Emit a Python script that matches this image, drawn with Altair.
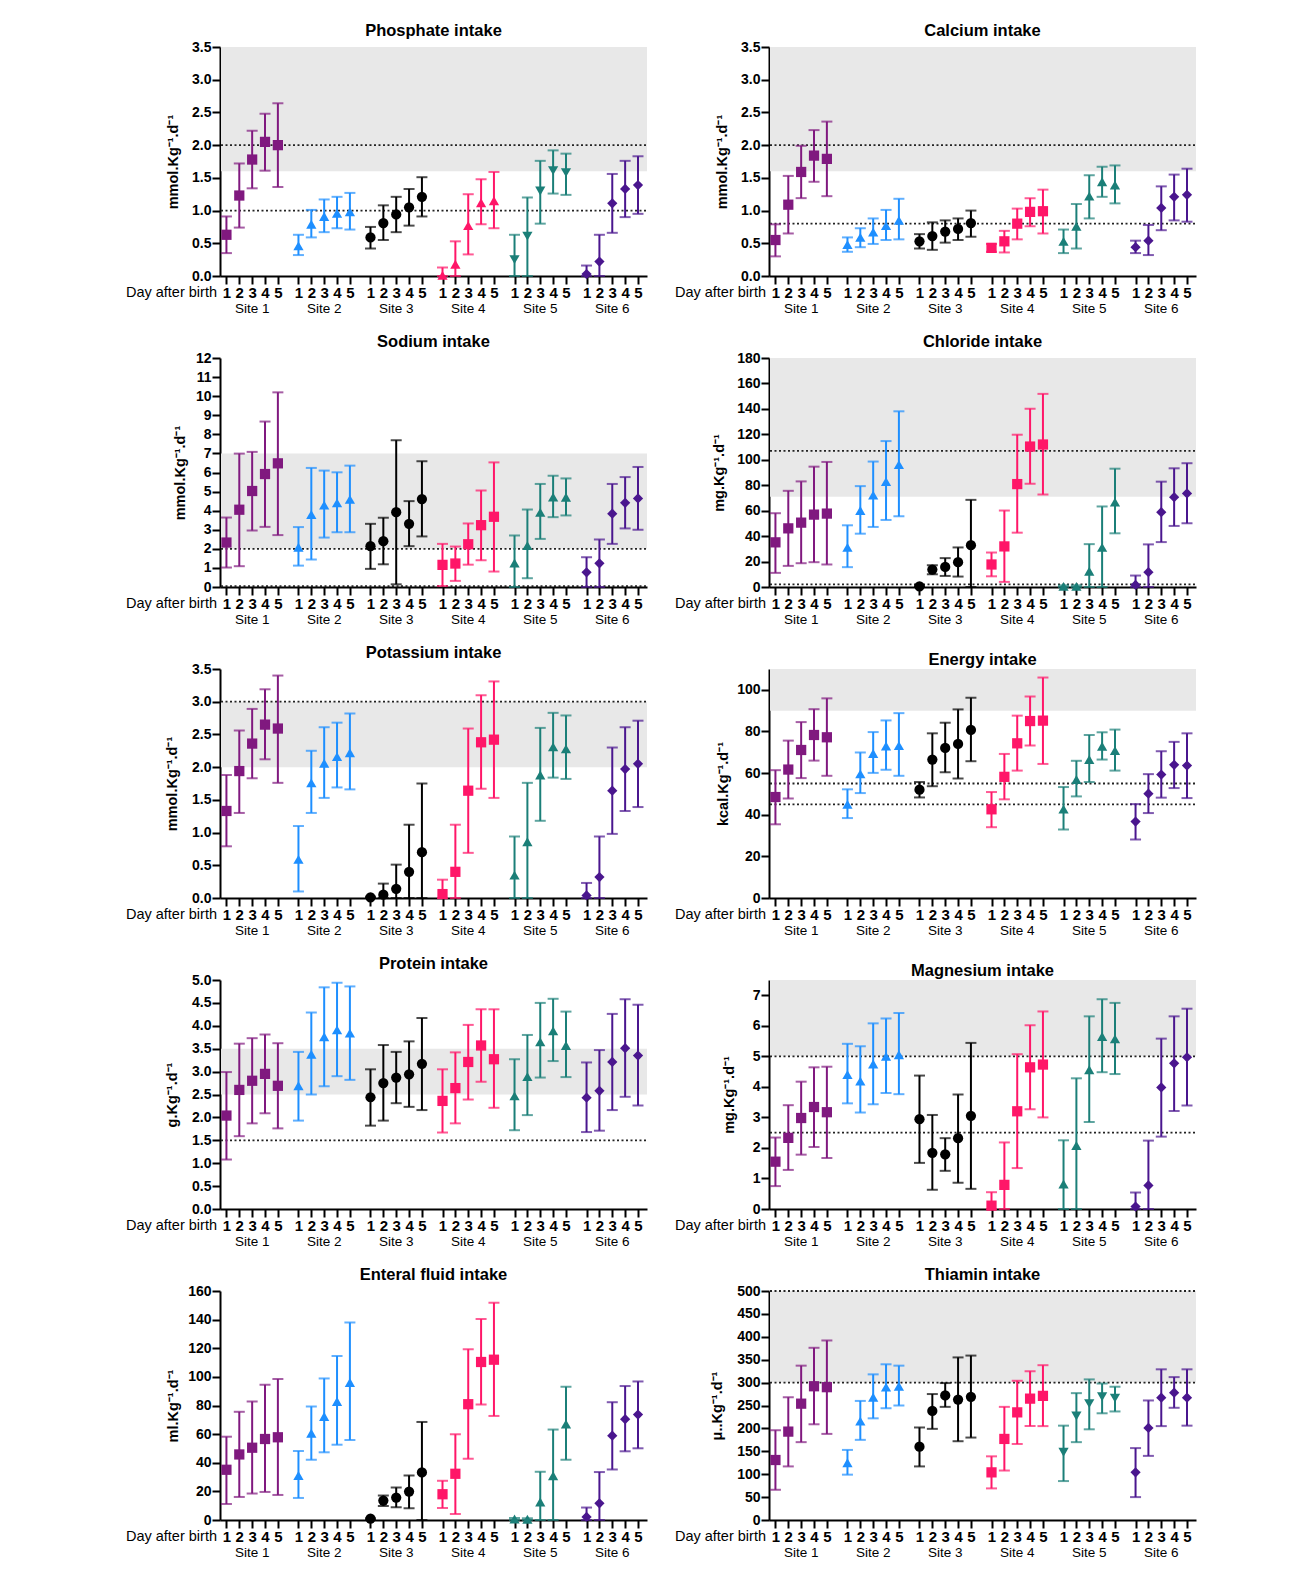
import altair as alt
import pandas as pd

# ---------------- data ----------------
sites = ["Site 1", "Site 2", "Site 3", "Site 4", "Site 5", "Site 6"]
days = [1, 2, 3, 4, 5]
site_colors = ["#80197F", "#1E8FFF", "#000000", "#FF1668", "#1B7F78", "#4A168E"]

shapes_default = ["square", "triangle-up", "circle", "square", "triangle-up", "diamond"]
shapes_phosphate = ["square", "triangle-up", "circle", "triangle-up", "triangle-down", "diamond"]
shapes_thiamin = ["square", "triangle-up", "circle", "square", "triangle-down", "diamond"]

phosphate_mean = [0.63, 1.23, 1.78, 2.05, 2.00, 0.46, 0.79, 0.91, 0.96, 0.98, 0.59, 0.81, 0.94, 1.05, 1.21,
                  0.01, 0.18, 0.77, 1.12, 1.15, 0.25, 0.61, 1.30, 1.61, 1.58, 0.03, 0.22, 1.11, 1.33, 1.39]
phosphate_lo = [0.35, 0.74, 1.34, 1.61, 1.36, 0.32, 0.59, 0.67, 0.73, 0.71, 0.42, 0.55, 0.67, 0.77, 0.91,
                0.0, 0.0, 0.33, 0.79, 0.73, 0.0, 0.0, 0.80, 1.26, 1.24, 0.0, 0.0, 0.66, 0.90, 0.95]
phosphate_hi = [0.91, 1.72, 2.22, 2.48, 2.64, 0.63, 1.01, 1.17, 1.21, 1.27, 0.75, 1.08, 1.21, 1.33, 1.51,
                0.13, 0.53, 1.25, 1.48, 1.59, 0.63, 1.20, 1.76, 1.92, 1.87, 0.16, 0.63, 1.56, 1.76, 1.83]

calcium_mean = [0.55, 1.09, 1.59, 1.84, 1.79, 0.48, 0.59, 0.67, 0.77, 0.85, 0.53, 0.61, 0.68, 0.72, 0.81,
                0.43, 0.53, 0.80, 0.98, 0.99, 0.53, 0.76, 1.22, 1.44, 1.39, 0.44, 0.54, 1.04, 1.21, 1.24]
calcium_lo = [0.30, 0.65, 1.19, 1.44, 1.22, 0.37, 0.44, 0.49, 0.55, 0.56, 0.42, 0.40, 0.51, 0.55, 0.60,
              0.37, 0.36, 0.56, 0.76, 0.65, 0.35, 0.42, 0.88, 1.21, 1.11, 0.35, 0.32, 0.70, 0.85, 0.83]
calcium_hi = [0.79, 1.53, 1.99, 2.23, 2.36, 0.59, 0.73, 0.88, 1.01, 1.18, 0.64, 0.82, 0.85, 0.88, 1.00,
              0.49, 0.69, 1.03, 1.19, 1.32, 0.71, 1.10, 1.54, 1.67, 1.69, 0.54, 0.78, 1.37, 1.55, 1.64]

sodium_mean = [2.33, 4.05, 5.03, 5.92, 6.48, 2.08, 3.80, 4.29, 4.41, 4.59, 2.14, 2.40, 3.92, 3.31, 4.61,
               1.16, 1.23, 2.24, 3.24, 3.68, 1.26, 2.17, 3.91, 4.71, 4.70, 0.77, 1.24, 3.84, 4.41, 4.64]
sodium_lo = [1.02, 1.09, 2.96, 3.15, 2.72, 1.12, 1.44, 2.59, 2.87, 2.87, 0.95, 1.19, 0.14, 2.14, 2.65,
             0.05, 0.32, 1.17, 1.40, 0.81, 0.0, 0.46, 2.52, 3.66, 3.75, 0.0, 0.0, 2.26, 3.07, 3.00]
sodium_hi = [3.64, 6.99, 7.08, 8.67, 10.2, 3.14, 6.24, 6.10, 6.01, 6.36, 3.31, 3.63, 7.69, 4.50, 6.59,
             2.26, 2.12, 3.33, 5.06, 6.53, 2.70, 4.06, 5.40, 5.83, 5.69, 1.56, 2.49, 5.40, 5.76, 6.29]

chloride_mean = [35.1, 46.1, 50.6, 56.9, 57.7, 31.1, 60.1, 72.2, 82.8, 96.2, 0.5, 13.7, 15.8, 19.5, 32.9,
                 17.7, 31.9, 80.9, 110.4, 112.0, 0.5, 0.5, 12.4, 31.1, 66.7, 1.6, 11.6, 58.8, 70.6, 73.5]
chloride_lo = [11.1, 16.6, 18.7, 19.5, 17.7, 15.6, 41.9, 47.2, 52.7, 55.6, 0.0, 10.0, 8.7, 8.2, 0.0,
               8.4, 4.0, 42.7, 81.2, 72.7, 0.0, 0.0, 0.0, 0.0, 42.2, 0.0, 0.0, 35.3, 48.0, 50.1]
chloride_hi = [58.0, 75.6, 83.0, 94.6, 98.3, 48.5, 79.3, 98.6, 114.7, 138.1, 1.0, 17.1, 22.7, 31.1, 68.5,
               27.1, 60.1, 119.7, 140.2, 151.8, 1.3, 1.3, 33.7, 63.3, 93.0, 9.0, 33.5, 82.8, 93.3, 97.3]

potassium_mean = [1.33, 1.94, 2.36, 2.65, 2.59, 0.59, 1.76, 2.06, 2.16, 2.22, 0.01, 0.05, 0.14, 0.40, 0.70,
                  0.06, 0.40, 1.64, 2.38, 2.42, 0.35, 0.86, 1.88, 2.31, 2.28, 0.04, 0.32, 1.64, 1.97, 2.05]
potassium_lo = [0.79, 1.30, 1.83, 2.12, 1.76, 0.10, 1.30, 1.53, 1.69, 1.66, 0.0, 0.0, 0.0, 0.0, 0.0,
                0.0, 0.0, 0.69, 1.67, 1.53, 0.0, 0.0, 1.18, 1.84, 1.82, 0.0, 0.0, 0.98, 1.33, 1.39]
potassium_hi = [1.88, 2.56, 2.89, 3.19, 3.40, 1.10, 2.25, 2.61, 2.68, 2.82, 0.02, 0.22, 0.51, 1.12, 1.75,
                0.28, 1.12, 2.59, 3.10, 3.31, 0.94, 1.76, 2.60, 2.83, 2.79, 0.23, 0.94, 2.30, 2.61, 2.71]

energy_mean = [48.5, 61.7, 71.1, 78.3, 77.2, 45.0, 59.6, 69.4, 73.0, 73.2, 52.0, 66.5, 72.1, 74.0, 80.7,
               42.6, 58.2, 74.3, 85.0, 85.2, 42.7, 56.9, 66.5, 72.9, 70.8, 36.7, 50.1, 59.3, 64.0, 63.6]
energy_lo = [35.4, 47.8, 57.6, 66.0, 58.7, 38.4, 50.4, 60.1, 61.6, 58.7, 48.3, 53.7, 60.4, 57.4, 65.7,
             34.0, 47.4, 61.2, 73.2, 64.4, 32.9, 48.8, 55.7, 66.5, 61.2, 28.1, 40.8, 48.2, 52.8, 48.0]
energy_hi = [61.4, 75.6, 84.5, 90.7, 95.9, 52.2, 69.9, 79.7, 85.3, 88.8, 55.7, 79.1, 84.2, 90.6, 96.2,
             50.9, 69.2, 87.6, 96.8, 105.9, 53.3, 65.9, 78.3, 79.6, 80.9, 45.1, 59.5, 70.5, 75.0, 79.1]

protein_mean = [2.04, 2.60, 2.80, 2.95, 2.69, 2.69, 3.38, 3.76, 3.91, 3.84, 2.44, 2.75, 2.87, 2.94, 3.17,
                2.36, 2.64, 3.21, 3.57, 3.27, 2.47, 2.89, 3.65, 3.89, 3.57, 2.43, 2.58, 3.21, 3.51, 3.35]
protein_lo = [1.08, 1.59, 1.87, 2.09, 1.76, 1.93, 2.50, 2.68, 2.90, 2.82, 1.82, 1.93, 2.31, 2.23, 2.16,
              1.67, 1.87, 2.39, 2.78, 2.21, 1.72, 2.05, 2.87, 3.23, 2.88, 1.68, 1.71, 2.16, 2.45, 2.26]
protein_hi = [2.99, 3.61, 3.73, 3.81, 3.62, 3.43, 4.29, 4.84, 4.94, 4.86, 3.05, 3.58, 3.43, 3.66, 4.17,
              3.05, 3.42, 4.02, 4.36, 4.36, 3.27, 3.80, 4.50, 4.59, 4.31, 3.20, 3.47, 4.26, 4.58, 4.46]

magnesium_mean = [1.55, 2.33, 2.98, 3.34, 3.17, 4.40, 4.19, 4.75, 5.00, 5.05, 2.94, 1.84, 1.79, 2.32, 3.05,
                  0.11, 0.79, 3.20, 4.64, 4.73, 0.82, 2.08, 4.56, 5.65, 5.57, 0.08, 0.77, 3.98, 4.77, 4.97]
magnesium_lo = [0.75, 1.28, 1.78, 2.03, 1.67, 3.46, 3.16, 3.43, 3.80, 3.76, 1.51, 0.63, 1.25, 0.86, 0.66,
                0.0, 0.0, 1.34, 3.27, 3.00, 0.0, 0.0, 2.85, 4.48, 4.42, 0.0, 0.0, 2.37, 3.21, 3.39]
magnesium_hi = [2.34, 3.40, 4.17, 4.64, 4.66, 5.41, 5.33, 6.08, 6.24, 6.42, 4.37, 3.08, 2.32, 3.75, 5.44,
                0.55, 2.18, 5.07, 6.02, 6.47, 2.25, 4.28, 6.31, 6.87, 6.75, 0.54, 2.24, 5.58, 6.31, 6.56]

enteral_mean = [35.1, 45.8, 50.5, 56.6, 57.8, 31.1, 60.6, 72.3, 82.8, 96.1, 0.9, 13.6, 15.7, 19.9, 33.2,
                18.0, 32.3, 80.9, 110.4, 112.0, 0.7, 0.5, 12.6, 30.9, 67.1, 2.1, 11.7, 58.9, 70.4, 73.7]
enteral_lo = [11.2, 16.1, 18.5, 19.6, 17.5, 15.4, 42.1, 47.3, 52.6, 55.9, 0.0, 9.8, 8.9, 8.2, 0.0,
              8.4, 4.2, 42.8, 80.7, 72.7, 0.0, 0.0, 0.0, 0.0, 42.1, 0.0, 0.0, 35.3, 48.0, 50.1]
enteral_hi = [58.2, 75.6, 82.8, 94.5, 98.5, 48.2, 79.3, 98.9, 114.6, 138.0, 1.2, 17.1, 22.7, 31.1, 68.5,
              27.4, 59.9, 119.3, 140.4, 151.8, 1.4, 1.2, 33.7, 63.2, 93.1, 8.7, 33.5, 82.3, 93.6, 96.8]

thiamin_mean = [131, 193, 254, 292, 290, 125, 216, 268, 290, 292, 160, 238, 272, 263, 269,
                104, 177, 235, 265, 271, 148, 227, 254, 269, 266, 104, 201, 267, 278, 267]
thiamin_lo = [66, 117, 170, 209, 188, 99, 175, 222, 244, 250, 117, 199, 247, 172, 180,
              69, 108, 166, 205, 205, 85, 170, 198, 233, 237, 50, 140, 205, 245, 206]
thiamin_hi = [196, 268, 337, 376, 392, 153, 260, 318, 340, 337, 202, 275, 299, 355, 359,
              139, 247, 304, 325, 338, 206, 277, 307, 298, 291, 157, 261, 329, 312, 329]

# ---------------- layout / style ----------------
W, H = 427, 229
GROUP_STEP = 5.6
FONT = "Liberation Sans"
BAND_COLOR = "#E8E8E8"
x_scale = alt.Scale(domain=[0.5, 5 * GROUP_STEP + 5.7], nice=False, zero=False)
tick_positions = [s * GROUP_STEP + d for s in range(len(sites)) for d in days]


def make_panel(title, ytitle, mean, lo, hi, shapes, ydomain, yticks, yfmt, band, dotted, title_x):
    rows = []
    for s, site in enumerate(sites):
        for d in days:
            i = s * len(days) + (d - 1)
            rows.append({"site": site, "day": d, "pos": s * GROUP_STEP + d,
                         "mean": mean[i], "lo": lo[i], "hi": hi[i], "shape": shapes[s]})
    df = pd.DataFrame(rows)
    caps = pd.concat([df[["site", "pos"]].assign(mean=df["lo"]), df[["site", "pos"]].assign(mean=df["hi"])])

    y_scale = alt.Scale(domain=ydomain, nice=False, zero=True)
    color = alt.Color("site:N", scale=alt.Scale(domain=sites, range=site_colors), legend=None)
    y_axis = alt.Axis(values=yticks, format=yfmt, title=ytitle, grid=False, tickSize=8, tickWidth=2,
                      domainWidth=2, labelFontSize=14, labelFontWeight="bold", labelPadding=1,
                      titleFontSize=14.5, titleFontWeight="bold", titleX=title_x, titleY=H / 2,
                      titleAngle=-90, titleAlign="center", titleBaseline="middle")
    x_axis = alt.Axis(values=tick_positions,
                      labelExpr="round(datum.value - floor((datum.value - 0.5) / 5.6) * 5.6)",
                      title=None, grid=False, tickSize=8, tickWidth=2, domainWidth=2, labelFontSize=15,
                      labelFontWeight="bold", labelPadding=1, labelFlush=False, labelOverlap=False)

    X = alt.X("pos:Q", scale=x_scale, axis=x_axis)
    layers = []
    if band is not None:
        layers.append(alt.Chart(pd.DataFrame({"mean": [band[0]], "b1": [band[1]]})).mark_rect(
            color=BAND_COLOR).encode(
            x=alt.value(1), x2=alt.value(W),
            y=alt.Y("mean:Q", scale=y_scale, axis=y_axis), y2="b1:Q"))
    if dotted:
        layers.append(alt.Chart(pd.DataFrame({"mean": dotted})).mark_rule(
            color="#222222", strokeDash=[2, 2.5], strokeWidth=1.8).encode(
            x=alt.value(1), x2=alt.value(W), y=alt.Y("mean:Q", scale=y_scale, axis=y_axis)))
    layers.append(alt.Chart(df).mark_rule(strokeWidth=2).encode(
        x=X, y=alt.Y("lo:Q", scale=y_scale, axis=y_axis), y2="hi:Q", color=color))
    layers.append(alt.Chart(caps).mark_tick(orient="horizontal", size=11, thickness=2).encode(
        x=X, y=alt.Y("mean:Q", scale=y_scale, axis=y_axis), color=color))
    layers.append(alt.Chart(df).mark_point(filled=True, opacity=1, size=105).encode(
        x=X, y=alt.Y("mean:Q", scale=y_scale, axis=y_axis),
        color=color, shape=alt.Shape("shape:N", scale=None)))
    site_df = pd.DataFrame({"site": sites, "pos": [s * GROUP_STEP + 3 for s in range(len(sites))]})
    layers.append(alt.Chart(site_df).mark_text(fontSize=13.5, font=FONT, baseline="middle", color="black").encode(
        x=X, y=alt.value(H + 33), text="site:N"))
    layers.append(alt.Chart(pd.DataFrame({"t": ["Day after birth"]})).mark_text(
        fontSize=14.5, font=FONT, align="right", baseline="middle", color="black").encode(
        x=alt.value(-3), y=alt.value(H + 17), text="t:N"))

    return alt.layer(*layers).properties(
        width=W, height=H,
        title=alt.TitleParams(title, fontSize=16.5, font=FONT, fontWeight="bold", anchor="middle",
                              frame="group", offset=1, color="black"))


def rng(a, b, step):
    out, v = [], a
    while v <= b + 1e-9:
        out.append(round(v, 4))
        v += step
    return out


sup = "\u207b\u00b9"
p_phos = make_panel("Phosphate intake", f"mmol.Kg{sup}.d{sup}", phosphate_mean, phosphate_lo, phosphate_hi,
                    shapes_phosphate, [0, 3.5], rng(0, 3.5, 0.5), ".1f", (1.6, 3.5), [2.0, 1.0], -47)
p_ca = make_panel("Calcium intake", f"mmol.Kg{sup}.d{sup}", calcium_mean, calcium_lo, calcium_hi,
                  shapes_default, [0, 3.5], rng(0, 3.5, 0.5), ".1f", (1.6, 3.5), [2.0, 0.8], -47)
p_na = make_panel("Sodium intake", f"mmol.Kg{sup}.d{sup}", sodium_mean, sodium_lo, sodium_hi,
                  shapes_default, [0, 12], rng(0, 12, 1), "d", (2, 7), [2, 0.04], -40)
p_cl = make_panel("Chloride intake", f"mg.Kg{sup}.d{sup}", chloride_mean, chloride_lo, chloride_hi,
                  shapes_default, [0, 180], rng(0, 180, 20), "d", (71, 180), [107, 2], -50)
p_k = make_panel("Potassium intake", f"mmol.Kg{sup}.d{sup}", potassium_mean, potassium_lo, potassium_hi,
                 shapes_default, [0, 3.5], rng(0, 3.5, 0.5), ".1f", (2.0, 3.0), [3.0], -48)
p_en = make_panel("Energy intake", f"kcal.Kg{sup}.d{sup}", energy_mean, energy_lo, energy_hi,
                  shapes_default, [0, 110], rng(0, 100, 20), "d", (90, 110), [55, 45], -46)
p_pr = make_panel("Protein intake", f"g.Kg{sup}.d{sup}", protein_mean, protein_lo, protein_hi,
                  shapes_default, [0, 5], rng(0, 5, 0.5), ".1f", (2.5, 3.5), [1.5], -48)
p_mg = make_panel("Magnesium intake", f"mg.Kg{sup}.d{sup}", magnesium_mean, magnesium_lo, magnesium_hi,
                  shapes_default, [0, 7.5], rng(0, 7, 1), "d", (5.0, 7.5), [5.0, 2.5], -40)
p_fl = make_panel("Enteral fluid intake", f"ml.Kg{sup}.d{sup}", enteral_mean, enteral_lo, enteral_hi,
                  shapes_default, [0, 160], rng(0, 160, 20), "d", None, [], -47)
p_th = make_panel("Thiamin intake", f"\u03bc..Kg{sup}.d{sup}", thiamin_mean, thiamin_lo, thiamin_hi,
                  shapes_thiamin, [0, 500], rng(0, 500, 50), "d", (300, 500), [500, 300], -52)

chart = alt.concat(
    p_phos, p_ca, p_na, p_cl, p_k, p_en, p_pr, p_mg, p_fl, p_th,
    columns=2, bounds="flush", spacing={"row": 82, "column": 122}
).properties(
    padding={"left": 117, "top": 14, "right": 5, "bottom": 5},
    background="white"
).configure_view(stroke=None).configure_axis(
    labelFont=FONT, titleFont=FONT, domainColor="black", tickColor="black", labelColor="black",
    titleColor="black", domainWidth=2, tickWidth=2
)

chart.save("out.html", embed_options={"renderer": "svg", "actions": False})
